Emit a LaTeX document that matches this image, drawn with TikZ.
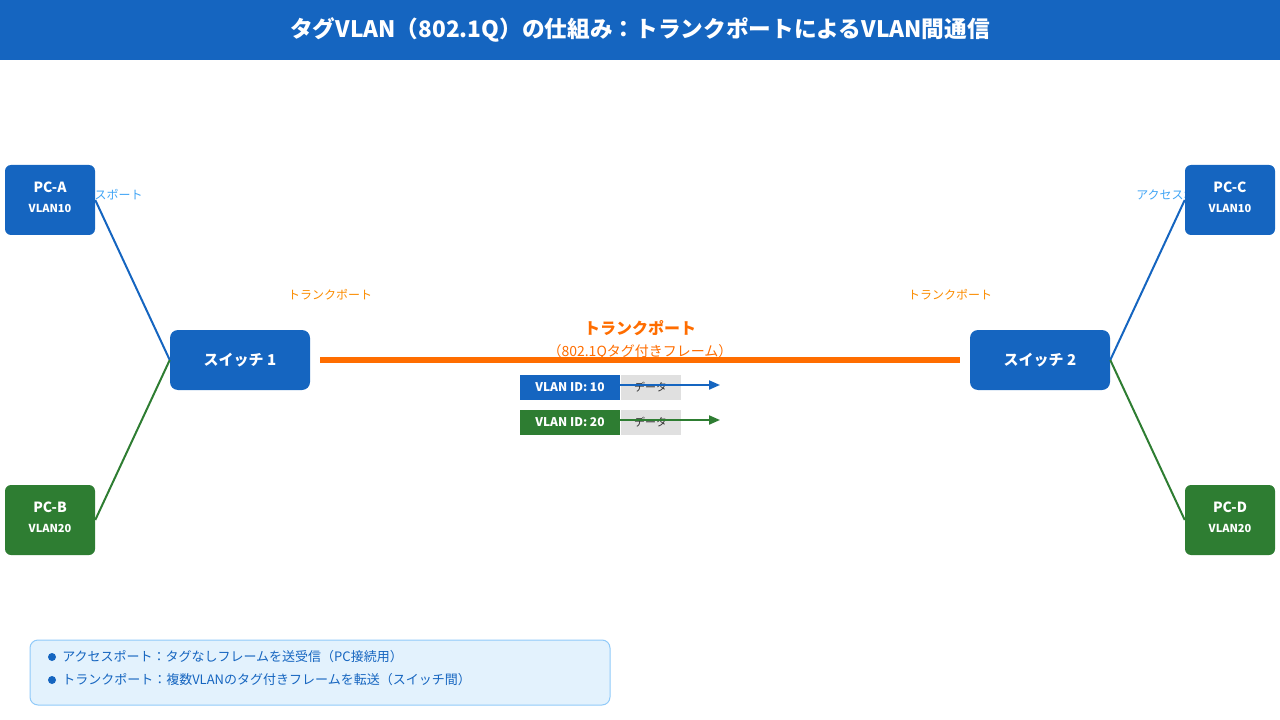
\documentclass[tikz,border=0pt]{standalone}
\usepackage{fontspec}
\setmainfont{Noto Sans CJK JP}
\usepackage{xcolor}
\usepackage{tikz}
\usetikzlibrary{calc,arrows.meta}

\definecolor{vblue}{HTML}{1565C0}
\definecolor{vgreen}{HTML}{2E7D32}
\definecolor{trunkorange}{HTML}{FF6D00}
\definecolor{portorange}{HTML}{FB8C00}
\definecolor{accessblue}{HTML}{42A5F5}
\definecolor{datagray}{HTML}{E0E0E0}
\definecolor{legendfill}{HTML}{E3F2FD}
\definecolor{legenddraw}{HTML}{90CAF9}

\begin{document}
\begin{tikzpicture}[x=0.75pt, y=-0.75pt,
    pcbox/.style={rounded corners=4.5pt, inner sep=0pt, minimum width=67.5pt, minimum height=52.5pt},
    swbox/.style={rounded corners=6pt, fill=vblue, inner sep=0pt, minimum width=105pt, minimum height=45pt,
        text=white, font=\fontsize{11.25}{13}\selectfont\bfseries},
    pcname/.style={text=white, font=\fontsize{10.5}{12}\selectfont\bfseries},
    pcvlan/.style={text=white, font=\fontsize{8.25}{10}\selectfont\bfseries},
    access/.style={text=accessblue, font=\fontsize{9}{11}\selectfont},
    port/.style={text=portorange, font=\fontsize{9}{11}\selectfont},
    link/.style={line width=1.5pt},
    tagbox/.style={inner sep=0pt, minimum width=75pt, minimum height=18.75pt, text=white,
        font=\fontsize{9}{10}\selectfont\bfseries},
    databox/.style={fill=datagray, inner sep=0pt, minimum width=45pt, minimum height=18.75pt,
        text=black!80, font=\fontsize{8.25}{10}\selectfont},
    framearrow/.style={line width=1.5pt, -{Triangle[length=8.25pt,width=6.75pt]}},
    legendtxt/.style={anchor=west, inner sep=0pt, text=vblue, font=\fontsize{9.75}{12}\selectfont}
]

    \useasboundingbox (0,0) rectangle (1280,720);

    %title
    \fill[vblue] (0,0) rectangle (1280,60);
    \node[text=white, font=\fontsize{17}{20}\selectfont\bfseries] (title) at (640,30)
    {タグVLAN（802.1Q）の仕組み：トランクポートによるVLAN間通信};

    %access port labels (under the pc boxes)
    \node[access] (acc1) at (101,195) {アクセスポート};
    \node[access] (acc2) at (1178,195) {アクセスポート};

    %pcs
    \foreach \n/\x/\y/\c/\lab/\vl in {pca/50/200/vblue/PC-A/VLAN10, pcb/50/520/vgreen/PC-B/VLAN20,
        pcc/1230/200/vblue/PC-C/VLAN10, pcd/1230/520/vgreen/PC-D/VLAN20}{
    	\node[pcbox, fill=\c] (\n) at (\x,\y) {};
    	\node[pcname] (\n-name) at ($(\n.center)+(0,-13)$) {\lab};
    	\node[pcvlan] (\n-vlan) at ($(\n.center)+(0,8)$) {\vl};
    }

    %switches
    \node[swbox] (sw1) at (240,360) {スイッチ 1};
    \node[swbox] (sw2) at (1040,360) {スイッチ 2};

    %access links
    \foreach \p/\s/\c in {pca.east/sw1.west/vblue, pcb.east/sw1.west/vgreen,
        pcc.west/sw2.east/vblue, pcd.west/sw2.east/vgreen}
    \draw[link, color=\c] (\p) -- (\s);

    %trunk
    \node[port] (port1) at (330,295) {トランクポート};
    \node[port] (port2) at (950,295) {トランクポート};
    \node[text=trunkorange, font=\fontsize{12}{14}\selectfont\bfseries] (trunk) at (640,328) {トランクポート};
    \node[text=trunkorange, font=\fontsize{10.5}{12}\selectfont] (trunksub) at (640,352) {（802.1Qタグ付きフレーム）};
    \draw[trunkorange, line width=4.5pt, shorten <=7.5pt, shorten >=7.5pt] (sw1.east) -- (sw2.west);

    %tagged frames
    \node[tagbox, fill=vblue] (tag10) at (570,387.5) {VLAN ID: 10};
    \node[databox, anchor=west] (data10) at (tag10.east) {データ};
    \node[tagbox, fill=vgreen] (tag20) at (570,422.5) {VLAN ID: 20};
    \node[databox, anchor=west] (data20) at (tag20.east) {データ};
    \coordinate (end10) at (720,385);
    \coordinate (end20) at (720,420);
    \draw[framearrow, vblue] ($(tag10.east |- end10)+(-2,0)$) -- (end10);
    \draw[framearrow, vgreen] ($(tag20.east |- end20)+(-2,0)$) -- (end20);

    %legend
    \node[rounded corners=6pt, fill=legendfill, draw=legenddraw, line width=0.75pt,
        minimum width=435pt, minimum height=48.75pt, inner sep=0pt] (legend) at (320,672.5) {};
    \foreach \i/\y/\txt in {1/657/アクセスポート：タグなしフレームを送受信（PC接続用）,
        2/680/トランクポート：複数VLANのタグ付きフレームを転送（スイッチ間）}{
    	\node[circle, fill=vblue, inner sep=0pt, minimum size=6pt] (dot\i) at (52,\y) {};
    	\node[legendtxt] (leg\i) at (62,\y) {\txt};
    }

\end{tikzpicture}
\end{document}
